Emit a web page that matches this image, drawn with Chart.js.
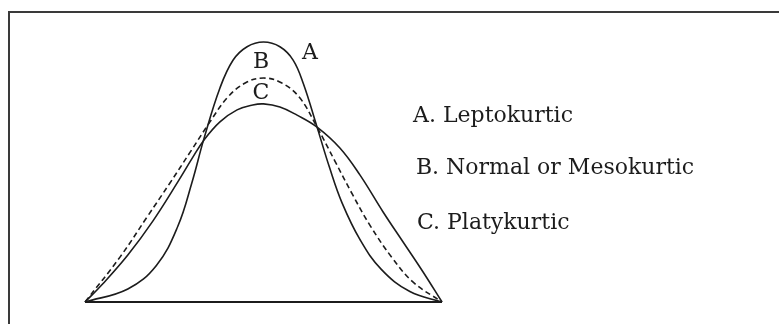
<!DOCTYPE html>
<html>
<head>
<meta charset="utf-8">
<script src="https://cdn.jsdelivr.net/npm/chart.js@4"></script>
<style>
  html, body { margin: 0; padding: 0; background: #fff; overflow: hidden; }
  #wrap { position: relative; width: 779px; height: 324px; }
  #frame { position: absolute; left: 8px; top: 11px; width: 800px; height: 400px; border: 2px solid #3a3a3a; box-sizing: border-box; }
  canvas { position: absolute; left: 0; top: 0; }
</style>
</head>
<body>
<div id="wrap">
  <div id="frame"></div>
  <canvas id="graf" width="779" height="324"></canvas>
</div>
<script>
"use strict";

// kurver (x: 0-100 langs basislinjen, y: 0-100 i højde)
const lepto = [
  { x: 0, y: 0 }, { x: 12, y: 5 }, { x: 20, y: 14 }, { x: 26, y: 29 },
  { x: 30, y: 46 }, { x: 33.3, y: 62.5 }, { x: 37.8, y: 82 }, { x: 41.5, y: 92.7 },
  { x: 45.4, y: 97.8 }, { x: 50, y: 99.6 }, { x: 54.6, y: 97.8 }, { x: 58.3, y: 92.7 },
  { x: 61.2, y: 83.5 }, { x: 65, y: 67 }, { x: 68.5, y: 51.5 }, { x: 72, y: 38 },
  { x: 77, y: 24 }, { x: 83, y: 12.5 }, { x: 91, y: 4 }, { x: 100, y: 0 }
];
const normal = [
  { x: 0, y: 0 }, { x: 9.8, y: 17.2 }, { x: 17.4, y: 32.6 }, { x: 23.8, y: 45.6 },
  { x: 29.5, y: 57.5 }, { x: 35, y: 69 }, { x: 40, y: 78.5 }, { x: 45, y: 84 },
  { x: 50, y: 85.8 }, { x: 55, y: 84 }, { x: 60, y: 78.5 }, { x: 65, y: 67 },
  { x: 70, y: 54 }, { x: 75, y: 41 }, { x: 80, y: 29 }, { x: 86, y: 17 },
  { x: 92, y: 7.5 }, { x: 100, y: 0 }
];
const platy = [
  { x: 0, y: 0 }, { x: 5, y: 7 }, { x: 12, y: 18 }, { x: 19, y: 31 },
  { x: 26, y: 46 }, { x: 30, y: 55 }, { x: 33.3, y: 62 }, { x: 37.8, y: 69 },
  { x: 42.6, y: 73.6 }, { x: 47, y: 75.5 }, { x: 50, y: 75.9 }, { x: 54.6, y: 74.7 },
  { x: 59.4, y: 71.6 }, { x: 65, y: 67 }, { x: 71.4, y: 59 }, { x: 77, y: 48.7 },
  { x: 83.5, y: 34.5 }, { x: 89.1, y: 23 }, { x: 94.7, y: 11.5 }, { x: 100, y: 0 }
];
const basislinje = [{ x: 0, y: 0 }, { x: 100, y: 0 }];

// bogstaver ved toppene og forklaringstekster
const kurveBogstaver = [
  { tekst: "A", x: 63, y: 95.4 },
  { tekst: "B", x: 49.3, y: 92 },
  { tekst: "C", x: 49.3, y: 80.1 }
];
const forklaringer = [
  { tekst: "A. Leptokurtic", x: 91.9, y: 69 },
  { tekst: "B. Normal or Mesokurtic", x: 92.7, y: 49 },
  { tekst: "C. Platykurtic", x: 93, y: 28 }
];

const blæk = "#1c1c1c";
const skrift = "22px 'DejaVu Serif', serif";

const tekstPlugin = {
  id: "tekster",
  afterDatasetsDraw(chart) {
    const ctx = chart.ctx;
    const sx = chart.scales.x, sy = chart.scales.y;
    ctx.save();
    ctx.fillStyle = blæk;
    ctx.font = skrift;
    ctx.textAlign = "center";
    ctx.textBaseline = "middle";
    kurveBogstaver.forEach(b => {
      ctx.fillText(b.tekst, sx.getPixelForValue(b.x), sy.getPixelForValue(b.y));
    });
    ctx.textAlign = "left";
    ctx.textBaseline = "alphabetic";
    forklaringer.forEach(f => {
      ctx.fillText(f.tekst, sx.getPixelForValue(f.x), sy.getPixelForValue(f.y));
    });
    ctx.restore();
  }
};

const fælles = {
  borderColor: blæk,
  borderWidth: 1.6,
  pointRadius: 0,
  fill: false,
  clip: false,
  tension: 0.4
};

new Chart(document.getElementById("graf").getContext("2d"), {
  type: "line",
  data: {
    datasets: [
      { ...fælles, label: "Leptokurtic", data: lepto },
      { ...fælles, label: "Normal", data: normal, borderDash: [5.5, 3.5] },
      { ...fælles, label: "Platykurtic", data: platy },
      { ...fælles, label: "Basis", data: basislinje, borderWidth: 2.2, tension: 0 }
    ]
  },
  options: {
    responsive: false,
    animation: false,
    events: [],
    layout: { padding: { left: 85, right: 337, top: 41, bottom: 22 } },
    plugins: { legend: { display: false }, tooltip: { enabled: false } },
    scales: {
      x: { type: "linear", min: 0, max: 100, display: false },
      y: { type: "linear", min: 0, max: 100, display: false }
    }
  },
  plugins: [tekstPlugin]
});
</script>
</body>
</html>
